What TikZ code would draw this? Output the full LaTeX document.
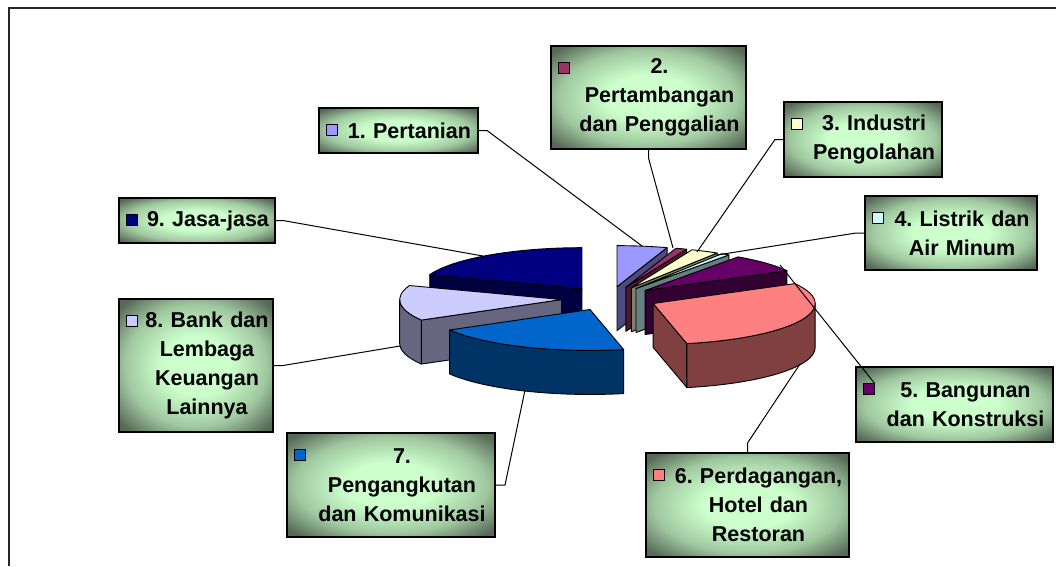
\documentclass[tikz,border=0pt]{standalone}
\usepackage{fontspec}
\setmainfont{Liberation Sans}
\usetikzlibrary{positioning,calc}

\definecolor{c1}{HTML}{9999FF}
\definecolor{c2}{HTML}{993366}
\definecolor{c3}{HTML}{FFFFCC}
\definecolor{c4}{HTML}{CCFFFF}
\definecolor{c5}{HTML}{660066}
\definecolor{c6}{HTML}{FF8080}
\definecolor{c7}{HTML}{0066CC}
\definecolor{c8}{HTML}{CCCCFF}
\definecolor{c9}{HTML}{000080}
\definecolor{kl}{HTML}{CCFFCC}
\definecolor{km}{HTML}{A0C8A0}
\definecolor{kd}{HTML}{566856}
\pgfdeclareradialshading{keyshade}{\pgfpoint{0bp}{0bp}}{color(0bp)=(kl); color(11bp)=(kl); color(23bp)=(km); color(33bp)=(kd); color(50bp)=(kd)}
\frenchspacing

\begin{document}
\begin{tikzpicture}[x=1pt, y=1pt,
    keybox/.style={draw, line width=1.6, shading=keyshade, outer sep=0pt, inner sep=0pt},
    txt/.style={inner sep=0pt, align=center, font=\fontsize{21.5}{29}\selectfont\bfseries},
    keydot/.style={draw, line width=0.8, fill=#1, minimum size=11, inner sep=0pt, anchor=north west},
    slicetop/.style={draw, line width=0.9, line join=round, fill=#1},
    sliceside/.style={draw, line width=0.9, line join=round, fill=#1!50!black},
    rim/.style={x radius=162, y radius=41},
    leader/.style={line width=1}]

\useasboundingbox (0,0) rectangle (1056,-566);
\draw[line width=1.6, black!85] (9,-566) -- (9,-8) -- (1056,-8);

% pie, back slices first
\coordinate (C) at (609.5,-298.5);
\coordinate (o1) at ($(C)+(81:48 and 12)$);
\coordinate (o2) at ($(C)+(70:48 and 12)$);
\coordinate (o3) at ($(C)+(63:48 and 12)$);
\coordinate (o4) at ($(C)+(56.5:48 and 12)$);
\coordinate (o5) at ($(C)+(42:48 and 12)$);
\coordinate (o6) at ($(C)+(-24.5:48 and 12)$);
\coordinate (o7) at ($(C)+(246:48 and 12)$);
\coordinate (o8) at ($(C)+(185:48 and 12)$);
\coordinate (o9) at ($(C)+(125:48 and 12)$);

\draw[sliceside=c1] (o1) -- ++(72:162 and 41) -- ++(0,-44) -- ++(252:162 and 41) -- cycle;
\draw[slicetop=c1] (o1) -- ++(90:162 and 41) arc[rim, start angle=90, end angle=72] -- cycle;

\draw[sliceside=c2] (o2) -- ++(68:162 and 41) -- ++(0,-44) -- ++(248:162 and 41) -- cycle;
\draw[slicetop=c2] (o2) -- ++(72:162 and 41) arc[rim, start angle=72, end angle=68] -- cycle;

\draw[sliceside=c3] (o3) -- ++(58:162 and 41) -- ++(0,-44) -- ++(238:162 and 41) -- cycle;
\draw[slicetop=c3] (o3) -- ++(68:162 and 41) arc[rim, start angle=68, end angle=58] -- cycle;

\draw[sliceside=c4] (o4) -- ++(55:162 and 41) -- ++(0,-44) -- ++(235:162 and 41) -- cycle;
\draw[slicetop=c4] (o4) -- ++(58:162 and 41) arc[rim, start angle=58, end angle=55] -- cycle;

\draw[sliceside=c9] (o9) -- ++(160:162 and 41) -- ++(0,-44) -- ++(340:162 and 41) -- cycle;
\draw[slicetop=c9] (o9) -- ++(90:162 and 41) arc[rim, start angle=90, end angle=160] -- cycle;

\draw[sliceside=c5] (o5) -- ++(29:162 and 41) -- ++(0,-44) -- ++(209:162 and 41) -- cycle;
\draw[slicetop=c5] (o5) -- ++(55:162 and 41) arc[rim, start angle=55, end angle=29] -- cycle;

\draw[sliceside=c8] (o8) -- ++(210:162 and 41) -- ++(0,-44) -- ++(30:162 and 41) -- cycle;
\draw[sliceside=c8] (o8) ++(180:162 and 41) arc[rim, start angle=180, end angle=210] -- ++(0,-44) arc[rim, start angle=210, end angle=180] -- cycle;
\draw[slicetop=c8] (o8) -- ++(160:162 and 41) arc[rim, start angle=160, end angle=210] -- cycle;

\draw[sliceside=c6] (o6) -- ++(-78:162 and 41) -- ++(0,-44) -- ++(102:162 and 41) -- cycle;
\draw[sliceside=c6] (o6) ++(-78:162 and 41) arc[rim, start angle=-78, end angle=0] -- ++(0,-44) arc[rim, start angle=0, end angle=-78] -- cycle;
\draw[slicetop=c6] (o6) -- ++(29:162 and 41) arc[rim, start angle=29, end angle=-78] -- cycle;

\draw[sliceside=c7] (o7) ++(210:162 and 41) arc[rim, start angle=210, end angle=282] -- ++(0,-44) arc[rim, start angle=282, end angle=210] -- cycle;
\draw[slicetop=c7] (o7) -- ++(210:162 and 41) arc[rim, start angle=210, end angle=282] -- cycle;

% labels
\node[keybox, minimum width=159, minimum height=45] (k1) at (398.5,-130.5) {};
\node[txt, text width=133pt] at ([xshift=11]k1.center) {1. Pertanian};
\node[keydot=c1] (m1) at ([shift={(6.5,-16)}]k1.north west) {};

\node[keybox, minimum width=195, minimum height=103] (k2) at (648.5,-97.5) {};
\node[txt, text width=169pt] at ([xshift=11]k2.center) {2.\\Pertambangan\\dan Penggalian};
\node[keydot=c2] (m2) at ([shift={(6.5,-16)}]k2.north west) {};

\node[keybox, minimum width=158, minimum height=75] (k3) at (863,-139.5) {};
\node[txt, text width=132pt] at ([xshift=11]k3.center) {3. Industri\\Pengolahan};
\node[keydot=c3] (m3) at ([shift={(6.5,-16)}]k3.north west) {};

\node[keybox, minimum width=172, minimum height=74] (k4) at (951,-233) {};
\node[txt, text width=146pt] at ([xshift=11]k4.center) {4. Listrik dan\\Air Minum};
\node[keydot=c4] (m4) at ([shift={(6.5,-16)}]k4.north west) {};

\node[keybox, minimum width=197, minimum height=75] (k5) at (954.5,-404.5) {};
\node[txt, text width=171pt] at ([xshift=11]k5.center) {5. Bangunan\\dan Konstruksi};
\node[keydot=c5] (m5) at ([shift={(6.5,-16)}]k5.north west) {};

\node[keybox, minimum width=203, minimum height=104] (k6) at (747.5,-505) {};
\node[txt, text width=177pt] at ([xshift=11]k6.center) {6. Perdagangan,\\Hotel dan\\Restoran};
\node[keydot=c6] (m6) at ([shift={(6.5,-16)}]k6.north west) {};

\node[keybox, minimum width=208, minimum height=104] (k7) at (391,-485) {};
\node[txt, text width=182pt] at ([xshift=11]k7.center) {7.\\Pengangkutan\\dan Komunikasi};
\node[keydot=c7] (m7) at ([shift={(6.5,-16)}]k7.north west) {};

\node[keybox, minimum width=154, minimum height=133] (k8) at (196,-365.5) {};
\node[txt, text width=128pt] at ([xshift=11]k8.center) {8. Bank dan\\Lembaga\\Keuangan\\Lainnya};
\node[keydot=c8] (m8) at ([shift={(6.5,-16)}]k8.north west) {};

\node[keybox, minimum width=156, minimum height=45] (k9) at (197,-220.5) {};
\node[txt, text width=130pt] at ([xshift=11]k9.center) {9. Jasa-jasa};
\node[keydot=c9] (m9) at ([shift={(6.5,-16)}]k9.north west) {};

% leader lines
\coordinate (p1) at (642,-246);
\coordinate (p2) at (673,-248);
\coordinate (p3) at (697,-252);
\coordinate (p4) at (717,-255);
\coordinate (p5) at (780,-265);
\coordinate (p6) at (800,-364);
\coordinate (p7) at (525,-390);
\coordinate (p8) at (400,-346);
\coordinate (p9) at (483,-256);

\draw[leader] (k1.east) -- ++(9,0) -- (p1);
\draw[leader] (k2.south) -- ++(0,-9) -- (p2);
\draw[leader] (k3.west) -- ++(-9,0) -- (p3);
\draw[leader] (k4.west) -- ++(-9,0) -- (p4);
\draw[leader] (p5) -- (m5.north east);
\draw[leader] (k6.north) -- ++(0,10) -- (p6);
\draw[leader] (k7.east) -- ++(10,0) -- (p7);
\draw[leader] (k8.east) -- ++(10,0) -- (p8);
\draw[leader] (k9.east) -- ++(8,0) -- (p9);
\end{tikzpicture}
\end{document}
